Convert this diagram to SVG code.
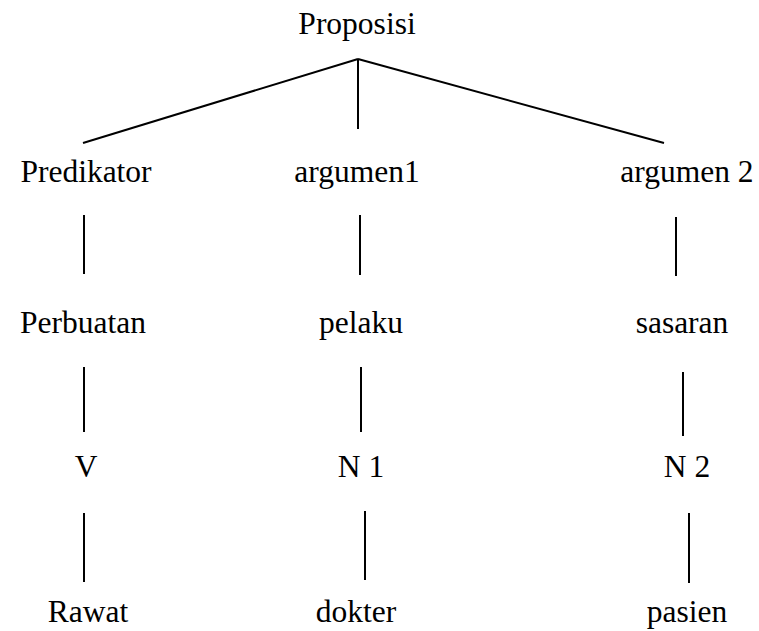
<svg xmlns="http://www.w3.org/2000/svg" width="759" height="631" viewBox="0 0 759 631">
<style>
text{font-family:"Liberation Serif","Times New Roman",serif;font-size:31.5px;fill:#000;text-anchor:middle}
line{stroke:#000;stroke-width:2;stroke-linecap:butt}
</style>
<rect width="759" height="631" fill="#fff"/>
<g id="connectors">
<line x1="358" y1="59" x2="83" y2="143"/>
<line x1="358" y1="59" x2="358" y2="129"/>
<line x1="358" y1="59" x2="664" y2="143"/>
<line x1="84" y1="215" x2="84" y2="274"/>
<line x1="360" y1="215" x2="360" y2="275"/>
<line x1="676" y1="217" x2="676" y2="276"/>
<line x1="84" y1="367" x2="84" y2="432"/>
<line x1="361" y1="367" x2="361" y2="432"/>
<line x1="683" y1="372" x2="683" y2="436"/>
<line x1="84" y1="513" x2="84" y2="582"/>
<line x1="365" y1="511" x2="365" y2="580"/>
<line x1="689" y1="513" x2="689" y2="583"/>
</g>
<g id="proposisi"><text x="357" y="34">Proposisi</text></g>
<g id="predikator"><text x="86" y="182">Predikator</text></g>
<g id="argumen1"><text x="357" y="182">argumen1</text></g>
<g id="argumen2"><text x="687" y="182">argumen 2</text></g>
<g id="perbuatan"><text x="83" y="333">Perbuatan</text></g>
<g id="pelaku"><text x="361" y="333">pelaku</text></g>
<g id="sasaran"><text x="682" y="333">sasaran</text></g>
<g id="v"><text x="86" y="477">V</text></g>
<g id="n1"><text x="361" y="477">N 1</text></g>
<g id="n2"><text x="687" y="477">N 2</text></g>
<g id="rawat"><text x="88" y="622">Rawat</text></g>
<g id="dokter"><text x="356" y="622">dokter</text></g>
<g id="pasien"><text x="687" y="622">pasien</text></g>
</svg>
